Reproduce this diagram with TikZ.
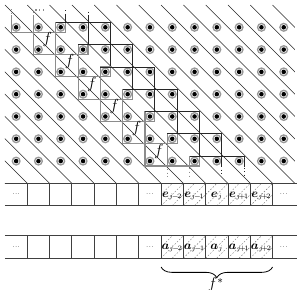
\documentclass[tikz,border=0pt]{standalone}
\usepackage{bm}
\usetikzlibrary{decorations.pathreplacing}
\newcommand\blkpaths[2]{%
  \draw[gry,#2] ({#1+2.28},{#1+0.78}) -- ({#1+2.28},{#1+3.22}) -- ({#1+4.28},{#1+3.22});
  \draw[gry,#2] ({#1+2.28},{#1+0.78}) rectangle ({#1+2.72},{#1+1.22});
  \draw[blk,#2] ({#1+2.28},{#1+0.78}) -- ({#1+4.72},{#1+0.78}) -- ({#1+4.72},{#1+2.78});
}
\begin{document}
\begin{tikzpicture}[x=0.5876cm, y=-0.5876cm,
  diag/.style={line width=0.4pt, black!85},
  blk/.style={line width=0.6pt, black!85},
  gry/.style={line width=0.9pt, black!45},
  ring/.style={draw=black!40, line width=1pt},
  cellln/.style={line width=0.6pt, black!75},
  hatch/.style={black!55, dash pattern=on 1.2pt off 1.2pt, line width=0.3pt},
  lab/.style={inner sep=0pt},
  dots/.style={inner sep=0pt, font=\tiny},
]
\useasboundingbox (-0.224,-0.224) rectangle (13.229,12.78);

% diagonal lines
\begin{scope}
  \clip (0,0) rectangle (13,8);
  \foreach \k in {-8,...,12} \draw[diag] (\k,0) -- ++(8,8);
\end{scope}

% dots
\foreach \i in {0,...,12} \foreach \j in {0,...,6} {
  \draw[ring] (\i+0.5,\j+1) circle (2.9pt);
  \fill[black] (\i+0.5,\j+1) circle (1.7pt);
}

% staircase blocks
\begin{scope}
  \clip (0,0.45) rectangle (13,7.25);
  \foreach \r in {-2,...,6} {\blkpaths{\r}{}}
\end{scope}
\begin{scope}
  \clip (0,0.2) rectangle (13,0.45);
  \foreach \r in {-2,...,6} {\blkpaths{\r}{dotted}}
\end{scope}
\begin{scope}
  \clip (0,7.25) rectangle (13,7.7);
  \foreach \r in {-2,...,6} {\blkpaths{\r}{dotted}}
\end{scope}

% f labels
\foreach \n in {0,...,5} \node[lab] (f\n) at (\n+1.9,\n+1.55) {\large$f$};

% cell rows
\foreach \y/\nm in {8/e, 10.35/a} {
  \foreach \k in {7,...,11} {
    \begin{scope}
      \clip (\k,\y) rectangle (\k+1,\y+1);
      \foreach \t in {-1,-0.5,0,0.5,1}
        \draw[hatch] (\k+\t,\y+1) -- ++(1,-1);
    \end{scope}
  }
  \draw[cellln] (0,\y) -- (13.1,\y) (0,\y+1) -- (13.1,\y+1);
  \foreach \k in {1,...,12} \draw[cellln] (\k,\y) -- (\k,\y+1);
  \node[dots] (\nm d0) at (0.5,\y+0.5) {...};
  \node[dots] (\nm d6) at (6.5,\y+0.5) {...};
  \node[dots] (\nm d12) at (12.5,\y+0.5) {...};
}
\foreach \k/\s in {7/j\!-\!2, 8/j\!-\!1, 9/j, 10/j\!+\!1, 11/j\!+\!2} {
  \node[lab] (e\k) at (\k+0.5,8.55) {\small$\bm{e}_{\scriptscriptstyle \s}$};
  \node[lab] (a\k) at (\k+0.5,10.9) {\small$\bm{a}_{\scriptscriptstyle \s}$};
}

% brace
\draw[line width=0.6pt, decorate, decoration={brace, mirror, amplitude=8pt}] (7,11.75) -- (12,11.75);
\node[lab] (fstar) at (9.45,12.55) {\large$f^{*}$};
\end{tikzpicture}
\end{document}
